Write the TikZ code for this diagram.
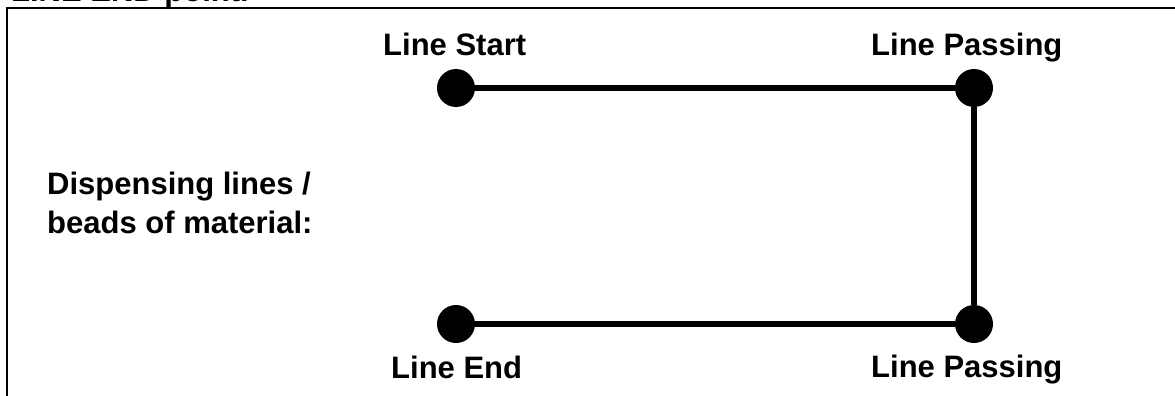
\documentclass[tikz,border=0pt]{standalone}
\usepackage{fontspec}
\setmainfont{Liberation Sans}
\begin{document}
\begin{tikzpicture}[x=1pt,y=-1pt,
  dot/.style={circle,fill=black,draw=none,inner sep=0pt,minimum size=38pt},
  bead/.style={line width=6.5pt},
  frameline/.style={line width=2pt},
  lbl/.style={anchor=base west,inner sep=0pt,font=\fontsize{31}{36}\bfseries\selectfont}
]
\useasboundingbox (0,0) rectangle (1175,396);
% cut-off caption at the top
\node[anchor=base east,inner sep=0pt,font=\fontsize{31}{36}\bfseries\selectfont] (cap) at (249,2) {LINE END point.};
% frame
\coordinate (fbl) at (7,400);
\coordinate (ftl) at (7,8);
\coordinate (ftr) at (1180,8);
\draw[frameline] (fbl) -- (ftl) -- (ftr);
% dots
\node[dot] (s) at (456,88) {};
\node[dot] (p1) at (974,88) {};
\node[dot] (p2) at (974,324) {};
\node[dot] (e) at (456,324) {};
% beads
\draw[bead] (s) -- (p1);
\draw[bead] (p1) -- (p2);
\draw[bead] (p2) -- (e);
% labels
\node[lbl] (ls) at (383,56) {Line Start};
\node[lbl] (lp1) at (871,56) {Line Passing};
\node[lbl] (d1) at (47,194) {Dispensing lines /};
\node[lbl] (d2) at (47,233) {beads of material:};
\node[lbl] (le) at (391,378) {Line End};
\node[lbl] (lp2) at (871,377) {Line Passing};
\end{tikzpicture}
\end{document}
